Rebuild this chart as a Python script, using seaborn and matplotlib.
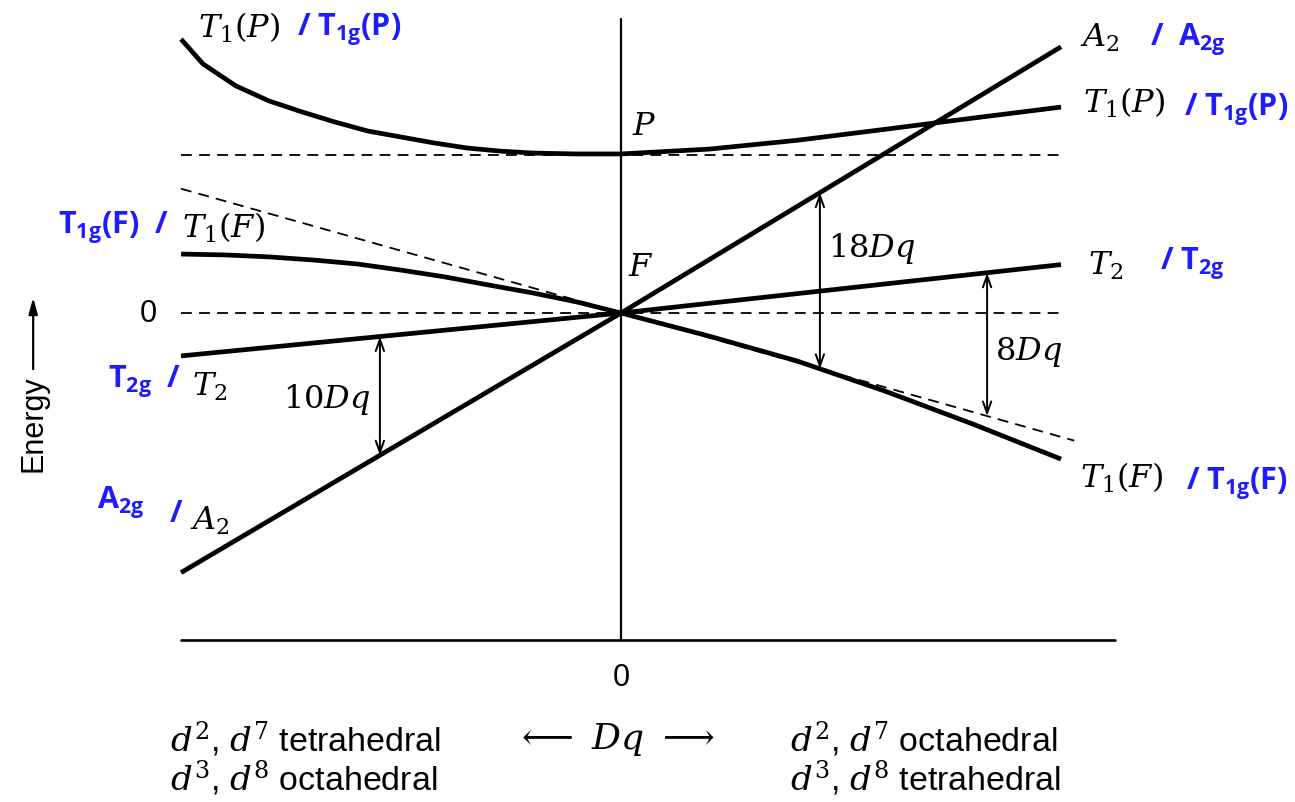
import numpy as np
import matplotlib
matplotlib.use("Agg")
import matplotlib.pyplot as plt
import seaborn as sns

# ---- term energies versus Dq (Orgel diagram, d2 / d7 / d3 / d8) ----
# Dq axis: negative side = d2,d7 tetrahedral / d3,d8 octahedral
dq_p = [-1.0, -0.95, -0.875, -0.8, -0.725, -0.65, -0.575, -0.5, -0.425,
        -0.35, -0.275, -0.2, -0.1, 0.0, 0.2, 0.4, 0.6, 0.8, 1.0]
e_t1p = [12.45, 11.32, 10.32, 9.64, 9.14, 8.68, 8.27, 8.0, 7.73,
         7.5, 7.36, 7.27, 7.23, 7.23, 7.45, 7.85, 8.35, 8.86, 9.36]

dq_f = [-1.0, -0.9, -0.8, -0.7, -0.6, -0.5, -0.4, -0.3, -0.2, -0.1,
        0.0, 0.2, 0.4, 0.6, 0.8, 1.0]
e_t1f = [2.68, 2.64, 2.55, 2.41, 2.23, 1.95, 1.64, 1.27, 0.91, 0.5,
         0.0, -1.05, -2.18, -3.55, -5.05, -6.64]

dq_lin = [-1.0, 0.0, 1.0]
e_a2 = [-11.8, 0.0, 12.1]
e_t2 = [-1.95, 0.0, 2.2]

# T1(F) without configuration interaction
dq_ref = [-1.0, 1.03]
e_t1f_ref = [5.65, -5.8]

# free-ion levels
e_p_level = 7.2
e_f_level = 0.0
level_span = [-1.0, 1.0]

# positions of the splitting arrows on the Dq axis
gap_10dq = -0.548
gap_18dq = 0.452
gap_8dq = 0.832

BLUE = "#1c1cff"

sns.set_theme(style="white")
plt.rcParams["font.family"] = ["Liberation Sans", "DejaVu Sans"]
plt.rcParams["mathtext.fontset"] = "dejavuserif"
plt.rcParams["mathtext.rm"] = "Open Sans:bold"
plt.rcParams["mathtext.it"] = "Open Sans:bold:italic"
plt.rcParams["mathtext.bf"] = "Open Sans:bold"

fig = plt.figure(figsize=(12.95, 8.03), dpi=100)
ax = fig.add_axes([0, 0, 1, 1])

LW = 3.4
DASH = (0, (6, 4))

# term curves
for xs, ys in [(dq_p, e_t1p), (dq_f, e_t1f), (dq_lin, e_a2), (dq_lin, e_t2)]:
    sns.lineplot(x=xs, y=ys, ax=ax, color="black", linewidth=LW,
                 estimator=None, sort=False, solid_capstyle="butt",
                 solid_joinstyle="round")

# reference dashed lines
sns.lineplot(x=dq_ref, y=e_t1f_ref, ax=ax, color="black", linewidth=1.3,
             estimator=None, sort=False, linestyle=DASH)
sns.lineplot(x=level_span, y=[e_p_level, e_p_level], ax=ax, color="black",
             linewidth=1.3, estimator=None, sort=False, linestyle=DASH)
sns.lineplot(x=level_span, y=[e_f_level, e_f_level], ax=ax, color="black",
             linewidth=1.3, estimator=None, sort=False, linestyle=DASH)

# axes of the diagram
y_bottom = -14.86
ax.plot([0, 0], [13.36, y_bottom], color="black", lw=1.6)
ax.plot([-1.0, 1.123], [y_bottom, y_bottom], color="black", lw=1.9)

ax.set_xlim(-1.4114, 1.5318)
ax.set_ylim(-22.227, 14.273)
ax.axis("off")


def split_arrow(x, y0, y1):
    ax.annotate("", xy=(x, y1), xytext=(x, y0),
                arrowprops=dict(arrowstyle="<->,head_length=0.7,head_width=0.25",
                                lw=1.4, color="black", shrinkA=0, shrinkB=0))


split_arrow(gap_10dq, np.interp(gap_10dq, dq_lin, e_t2), np.interp(gap_10dq, dq_lin, e_a2))
split_arrow(gap_18dq, np.interp(gap_18dq, dq_lin, e_a2), np.interp(gap_18dq, dq_f, e_t1f))
split_arrow(gap_8dq, np.interp(gap_8dq, dq_lin, e_t2), np.interp(gap_8dq, dq_ref, e_t1f_ref))

SERIF = dict(fontsize=23, color="black", math_fontfamily="dejavuserif", va="center")
BL = dict(fontsize=22, color=BLUE, family="Open Sans", weight="bold",
          math_fontfamily="custom", va="center")

ax.text(-0.570, -3.9, r"$10Dq$", ha="right", **SERIF)
ax.text(0.470, 3.0, r"$18Dq$", ha="left", **SERIF)
ax.text(0.850, -1.73, r"$8Dq$", ha="left", **SERIF)

ax.text(0.025, 8.5, r"$P$", ha="left", **SERIF)
ax.text(0.016, 2.1, r"$F$", ha="left", **SERIF)

# term labels, top-left
ax.text(-0.961, 13.0, r"$T_1(P)$", ha="left", **SERIF)
ax.text(-0.736, 12.9, r"/ $\mathrm{T_{1g}(P)}$", ha="left", **BL)

# right-hand labels
ax.text(1.043, 12.55, r"$A_2$", ha="left", **SERIF)
ax.text(1.202, 12.45, r"/  $\mathrm{A_{2g}}$", ha="left", **BL)
ax.text(1.050, 9.6, r"$T_1(P)$", ha="left", **SERIF)
ax.text(1.280, 9.27, r"/ $\mathrm{T_{1g}(P)}$", ha="left", **BL)
ax.text(1.061, 2.2, r"$T_2$", ha="left", **SERIF)
ax.text(1.225, 2.3, r"/ $\mathrm{T_{2g}}$", ha="left", **BL)
ax.text(1.043, -7.45, r"$T_1(F)$", ha="left", **SERIF)
ax.text(1.283, -7.7, r"/ $\mathrm{T_{1g}(F)}$", ha="left", **BL)

# left-hand labels
ax.text(-1.28, 3.9, r"$\mathrm{T_{1g}(F)}$  /", ha="left", **BL)
ax.text(-0.998, 3.9, r"$T_1(F)$", ha="left", **SERIF)
ax.text(-1.166, -3.1, r"$\mathrm{T_{2g}}$  /", ha="left", **BL)
ax.text(-0.975, -3.3, r"$T_2$", ha="left", **SERIF)
ax.text(-1.19, -8.6, r"$\mathrm{A_{2g}}$", ha="left", **BL)
ax.text(-1.025, -9.1, "/", ha="left", **BL)
ax.text(-0.98, -9.4, r"$A_2$", ha="left", **SERIF)

# zero marks
SANS = dict(fontsize=22, color="black", math_fontfamily="dejavuserif")
ax.text(-1.075, 0.0, "0", ha="center", va="center", **SANS)
ax.text(0.0, -16.55, "0", ha="center", va="center", **SANS)

# energy axis label
ax.text(-1.336, -5.0, "Energy", rotation=90, ha="center", va="center",
        fontsize=22, color="black")
ax.annotate("", xy=(-1.336, 0.7), xytext=(-1.336, -2.55),
            arrowprops=dict(arrowstyle="-|>,head_length=0.8,head_width=0.22",
                            lw=1.6, color="black", shrinkA=0, shrinkB=0))

# configuration captions
CAP = dict(fontsize=24.5, color="black", math_fontfamily="dejavuserif",
           ha="left", va="center")
ax.text(-1.025, -19.36, r"$d^2$, $d^7$ tetrahedral", **CAP)
ax.text(-1.025, -21.1, r"$d^3$, $d^8$ octahedral", **CAP)
ax.text(-0.014, -19.36, r"$\longleftarrow\ Dq\ \longrightarrow$", ha="center",
        va="center", fontsize=26, color="black", math_fontfamily="dejavuserif")
ax.text(0.384, -19.36, r"$d^2$, $d^7$ octahedral", **CAP)
ax.text(0.384, -21.1, r"$d^3$, $d^8$ tetrahedral", **CAP)

fig.savefig("out.png", dpi=100, facecolor="white")
